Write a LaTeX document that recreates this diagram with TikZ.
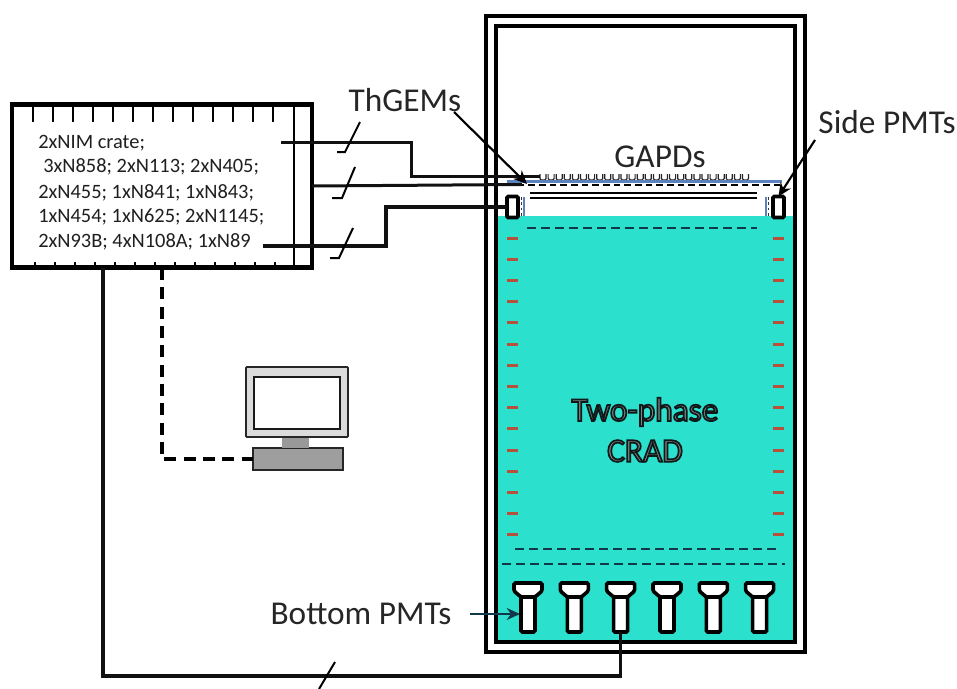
\documentclass[tikz,border=0pt]{standalone}
\usepackage{fontspec}
\setmainfont{Carlito}
\usetikzlibrary{arrows.meta}
\definecolor{liquid}{HTML}{2BE0CC}
\definecolor{wirecol}{HTML}{111111}
\definecolor{reddash}{HTML}{B8503C}
\definecolor{bluebar}{HTML}{5B82BE}
\definecolor{darkdash}{HTML}{10384A}
\def\u{0.75pt}
\newcommand{\outlined}[1]{\special{pdf:code q 2 Tr 1.3 w 0.06 0.10 0.10 RG 0.50 0.53 0.53 rg}#1\special{pdf:code Q}}
\tikzset{
  x=0.75pt,y=-0.75pt,
  wall/.style={draw=black,line width=3.2pt,fill=none},
  wirethick/.style={draw=wirecol,line width=2.6pt},
  wiremid/.style={draw=wirecol,line width=2.25pt},
  tick/.style={draw=black,line width=1.1pt},
  slash/.style={draw=black,line width=1.5pt},
  label/.style={font=\fontsize{25}{28}\selectfont,text=black!85,inner sep=0pt},
  cratetext/.style={font=\fontsize{15.3}{15.3}\selectfont,text=black!88,inner sep=0pt,anchor=west},
  pointer/.style={draw=black,line width=1.6pt,-{Stealth[length=10pt,width=9pt]}},
  gridline/.style={draw=darkdash,line width=1.5pt,dash pattern=on 6.5pt off 4pt},
  sidepmt/.style={draw=black,line width=2.8pt,fill=white,rounded corners=1pt,minimum width=11*\u,minimum height=21*\u,inner sep=0pt,outer sep=0pt},
  monitorpart/.style={draw=black!85,line width=1.2pt},
  glow/.style={font=\fontsize{25}{28}\selectfont,inner sep=0pt},
  bottompmt/.style={draw=black,line width=2.7pt,fill=white,rounded corners=1pt},
  reddashline/.style={draw=reddash,line width=2.25pt},
}
\begin{document}
\begin{tikzpicture}
\useasboundingbox (0,0) rectangle (957,689);
% vessel
\fill[liquid] (496,216) rectangle (795,642);
\draw[wall] (486,16) rectangle (805,652);
\draw[wall] (496,26) rectangle (795,642);
% crate
\node[draw=black,line width=3.4pt,minimum width=300*\u,minimum height=163*\u,inner sep=0pt,outer sep=0pt] (crate) at (162,186) {};
\foreach \i in {0,...,12}{
  \draw[tick] (33+20*\i,105) -- (33+20*\i,122);
  \draw[tick] (35+20*\i,262) -- (35+20*\i,267);
}
\draw[tick] (294,105) -- (294,267);
\node[cratetext] (t1) at (38,143) {2xNIM crate;};
\node[cratetext] (t2) at (43,167) {3xN858; 2xN113; 2xN405;};
\node[cratetext] (t3) at (38,193) {2xN455; 1xN841; 1xN843;};
\node[cratetext] (t4) at (38,217) {1xN454; 1xN625; 2xN1145;};
\node[cratetext] (t5) at (38,242) {2xN93B; 4xN108A; 1xN89};
% inner structure
\foreach \i in {0,...,25}{
  \draw[black!85,line width=0.9pt,rounded corners=1pt] (540+8.1*\i,174) -- (540+8.1*\i,180) -- (546+8.1*\i,180) -- (546+8.1*\i,174);
}
\draw[bluebar,line width=2pt] (507,181.5) -- (782,181.5);
\draw[black,line width=1.5pt,dash pattern=on 5pt off 3pt] (507,184.5) -- (782,184.5);
\draw[black,line width=1.6pt] (530,193) -- (757,193);
\draw[black,line width=1.6pt] (530,198) -- (757,198);
\draw[gridline] (527,228) -- (757,228);
\draw[gridline] (515,549) -- (780,549);
\draw[gridline] (502,564) -- (785,564);
\foreach \i in {0,...,14}{
  \draw[reddashline] (507,{238+21.2*\i}) -- (518,{238+21.2*\i});
  \draw[reddashline] (773,{238+21.2*\i}) -- (784,{238+21.2*\i});
}
\draw[bluebar,line width=1.2pt] (524,197) -- (524,216);
\draw[bluebar,line width=1.2pt] (766,197) -- (766,216);
\draw[black!80,line width=1.2pt,dash pattern=on 2pt off 2pt] (521.5,197) -- (521.5,216);
\draw[black!80,line width=1.2pt,dash pattern=on 2pt off 2pt] (768.5,197) -- (768.5,216);
\node[sidepmt] (pmtL) at (512.5,207) {};
\node[sidepmt] (pmtR) at (778.5,207) {};
% bottom PMTs
\foreach \n/\cx in {1/528,2/574.3,3/620.6,4/667,5/713.3,6/759.6}{
  \draw[bottompmt] (\cx-14,583) -- (\cx+14,583) -- (\cx+14,591) -- (\cx+7,597) -- (\cx-7,597) -- (\cx-14,591) -- cycle;
  \draw[bottompmt] (\cx-7,597) rectangle (\cx+7,632);
  \coordinate (bp\n) at (\cx,632);
  \coordinate (bpL\n) at (\cx-8,614);
}
% wires
\coordinate (w1s) at (281,142);
\coordinate (w1e) at (540,176);
\coordinate (w2e) at (522,184.5);
\coordinate (w3s) at (263,246);
\coordinate (w1k) at (411,142);
\coordinate (w3k) at (386,246);
\coordinate (w2s) at (crate.east |- 0,186);
\draw[wiremid] (w1s) -- (w1k) -- (w1k |- w1e) -- (w1e);
\draw[wiremid] (w2s) -- (w2e);
\draw[wirethick] (w3s) -- (w3k) -- (w3k |- pmtL.west) -- (pmtL.west);
\coordinate (w4s) at (103,268);
\draw[wirethick] (w4s) -- (103,676) -- (bp3 |- 0,676) -- (bp3);
% cut marks
\draw[slash] (360,122) -- (345,152) -- (337,152);
\draw[slash] (355,167) -- (342,198) -- (332,198);
\draw[slash] (353,228) -- (339,258) -- (330,258);
\draw[slash] (335,662) -- (319,689);
% computer
\node[draw=black!85,line width=1.2pt,minimum width=90*\u,minimum height=22*\u,inner sep=0pt,outer sep=0pt,fill=black!38] (pc) at (298,459) {};
\fill[black!40] (282,437) rectangle (309,447.5);
\draw[monitorpart,fill=black!14,rounded corners=0.5pt] (246,367) rectangle (348,437);
\draw[black!90,line width=1.4pt,fill=white] (254,377) rectangle (340,429);
% dashed link
\coordinate (dd) at (162,268);
\draw[black,line width=2.4pt,dash pattern=on 9pt off 5.5pt] (dd) -- (dd |- pc.west) -- (pc.west);
% labels
\node[label] (lthgem) at (405,100) {ThGEMs};
\node[label] (lgapd) at (660,157) {GAPDs};
\node[label] (lside) at (887,122) {Side PMTs};
\node[label] (lbot) at (361,614) {Bottom PMTs};
\node[glow] (two) at (645,412) {\outlined{Two-phase}};
\node[glow] (crad) at (645,451) {\outlined{CRAD}};
\draw[pointer] (454,112) -- (527,184);
\draw[pointer] (815,140) -- (pmtR.north);
\draw[pointer,line width=1.2pt,draw=darkdash] (lbot.east) ++(14pt,0) -- (bpL1);
\end{tikzpicture}
\end{document}
